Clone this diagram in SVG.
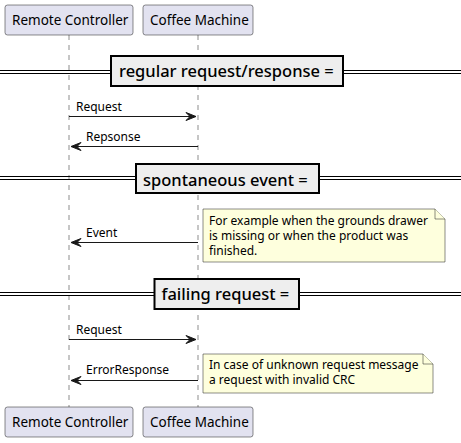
<svg xmlns="http://www.w3.org/2000/svg" width="461" height="443" viewBox="0 0 461 443">
<style>
text{font-family:"Noto Sans","DejaVu Sans",sans-serif;fill:#000}
.p{fill:#E2E2F0;stroke:#181818;stroke-width:0.5}
.pt{font-size:13.5px}
.life{stroke:#181818;stroke-width:0.5;stroke-dasharray:5,5}
.dl{stroke:#000;stroke-width:1}
.db{fill:#EEEEEE;stroke:#000;stroke-width:2}
.dt{font-size:16.5px;font-weight:500}
.msg{stroke:#181818;stroke-width:1}
.ah{fill:#181818;stroke:#181818;stroke-width:1}
.mt{font-size:12px}
.note{fill:#FEFFDD;stroke:#181818;stroke-width:0.5}
.nt{font-size:12px}
</style>
<rect width="461" height="443" fill="#FFFFFF"/>
<g id="lifelines">
<line class="life" x1="69" y1="35" x2="69" y2="407"/>
<line class="life" x1="198" y1="35" x2="198" y2="407"/>
</g>
<g id="participant-remote-top">
<rect class="p" x="5" y="5" width="128" height="30" rx="2.5"/>
<text class="pt" x="12" y="25">Remote Controller</text>
</g>
<g id="participant-coffee-top">
<rect class="p" x="143" y="5" width="110" height="30" rx="2.5"/>
<text class="pt" x="150" y="25">Coffee Machine</text>
</g>
<g id="participant-remote-bottom">
<rect class="p" x="5" y="407" width="128" height="30" rx="2.5"/>
<text class="pt" x="12" y="427">Remote Controller</text>
</g>
<g id="participant-coffee-bottom">
<rect class="p" x="143" y="407" width="110" height="30" rx="2.5"/>
<text class="pt" x="150" y="427">Coffee Machine</text>
</g>
<g id="divider-1">
<line class="dl" x1="0" y1="70.5" x2="461" y2="70.5"/>
<line class="dl" x1="0" y1="73.5" x2="461" y2="73.5"/>
<rect class="db" x="111" y="56" width="232" height="30"/>
<text class="dt" x="119" y="77">regular request/response =</text>
</g>
<g id="divider-2">
<line class="dl" x1="0" y1="176.5" x2="461" y2="176.5"/>
<line class="dl" x1="0" y1="179.5" x2="461" y2="179.5"/>
<rect class="db" x="136" y="164" width="183" height="29"/>
<text class="dt" x="143" y="185.5">spontaneous event =</text>
</g>
<g id="divider-3">
<line class="dl" x1="0" y1="292.5" x2="461" y2="292.5"/>
<line class="dl" x1="0" y1="295.5" x2="461" y2="295.5"/>
<rect class="db" x="154.5" y="279" width="144.5" height="30"/>
<text class="dt" x="161.5" y="300">failing request =</text>
</g>
<g id="note-1">
<path class="note" d="M203,209 L435,209 L445,219 L445,262 L203,262 Z"/>
<path class="note" d="M435,209 L435,219 L445,219" fill="none"/>
<text class="nt" x="209" y="225">For example when the grounds drawer</text>
<text class="nt" x="209" y="240">is missing or when the product was</text>
<text class="nt" x="209" y="255">finished.</text>
</g>
<g id="note-2">
<path class="note" d="M203,354 L423,354 L433,364 L433,393 L203,393 Z"/>
<path class="note" d="M423,354 L423,364 L433,364" fill="none"/>
<text class="nt" x="209" y="368.5">In case of unknown request message</text>
<text class="nt" x="209" y="383.5">a request with invalid CRC</text>
</g>
<g id="connectors">
<line class="msg" x1="69" y1="116.5" x2="196" y2="116.5"/>
<polygon class="ah" points="186,112.5 196,116.5 186,120.5 190,116.5"/>
<text class="mt" x="76" y="111">Request</text>
<line class="msg" x1="71" y1="146.5" x2="198" y2="146.5"/>
<polygon class="ah" points="81,142.5 71,146.5 81,150.5 77,146.5"/>
<text class="mt" x="86" y="141">Repsonse</text>
<line class="msg" x1="71" y1="242.5" x2="198" y2="242.5"/>
<polygon class="ah" points="81,238.5 71,242.5 81,246.5 77,242.5"/>
<text class="mt" x="86" y="237">Event</text>
<line class="msg" x1="69" y1="339.5" x2="196" y2="339.5"/>
<polygon class="ah" points="186,335.5 196,339.5 186,343.5 190,339.5"/>
<text class="mt" x="76" y="334">Request</text>
<line class="msg" x1="71" y1="380.5" x2="198" y2="380.5"/>
<polygon class="ah" points="81,376.5 71,380.5 81,384.5 77,380.5"/>
<text class="mt" x="86" y="374">ErrorResponse</text>
</g>
</svg>
